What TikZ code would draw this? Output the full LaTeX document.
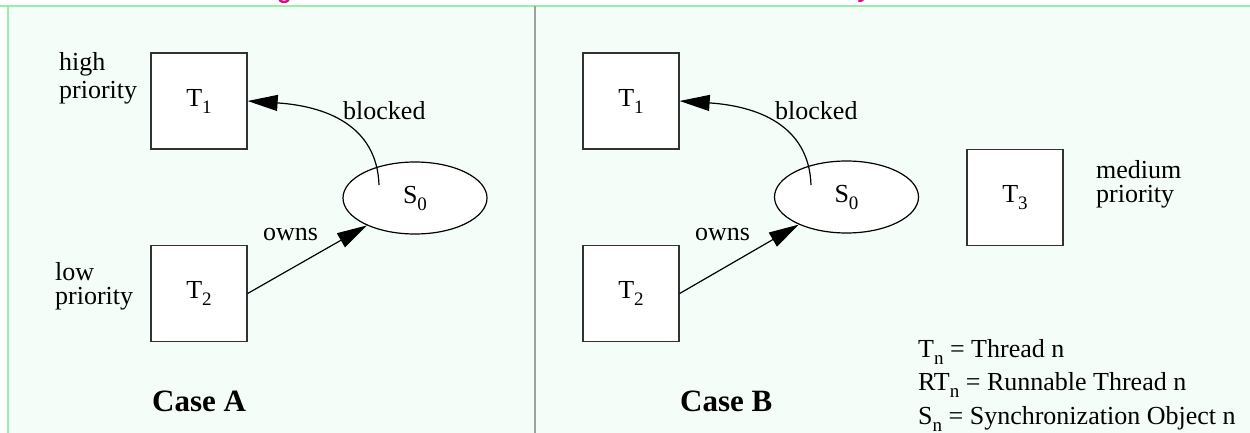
\documentclass[tikz,border=0pt]{standalone}
\usepackage{fontspec}
\setmainfont{Liberation Serif}
\newfontfamily\titlefont{Liberation Sans}
\usetikzlibrary{arrows.meta,shapes.geometric}
\definecolor{bgmint}{RGB}{245,253,248}
\definecolor{framegreen}{RGB}{150,240,170}
\definecolor{dividergray}{RGB}{160,160,160}
\definecolor{boxline}{RGB}{50,50,50}
\newcommand\subs[1]{\raisebox{-7pt}{\fontsize{19}{19}\selectfont #1}}
\begin{document}
\begin{tikzpicture}[x=1pt,y=-1pt,
  lbl/.style={font=\fontsize{26}{26}\selectfont, inner sep=0pt, anchor=base west},
  thread/.style={draw=boxline, fill=white, line width=1.3pt, minimum width=96pt, minimum height=96pt, inner sep=0pt, font=\fontsize{26}{26}\selectfont},
  sync/.style={ellipse, draw=black, fill=white, line width=1.2pt, minimum width=144pt, minimum height=72pt, inner sep=0pt, font=\fontsize{26}{26}\selectfont},
  arr/.style={-{Triangle[length=30pt,width=16pt]}, line width=1.2pt},
  casel/.style={font=\fontsize{31}{31}\selectfont\bfseries, inner sep=0pt, anchor=base west},
  titlebit/.style={text=magenta, font=\titlefont\bfseries\fontsize{24}{24}\selectfont, inner sep=0pt, anchor=base west}]
\useasboundingbox (0,0) rectangle (1250,433);
\clip (0,0) rectangle (1250,433);
\fill[white] (0,0) rectangle (1250,433);
\fill[bgmint] (7.5,6) rectangle (1250,433);
\draw[framegreen, line width=2pt] (0,6) -- (1250,6);
\draw[framegreen, line width=2pt] (7.5,6) -- (7.5,433);
\draw[dividergray, line width=2pt] (535,6) -- (535,433);
% cut-off title
\node[titlebit] (titleg) at (277,-1.5) {g};
\node[titlebit] (titley) at (857,-2) {y};

% Case A
\node[thread] (T1A) at (199,101) {T\subs{1}};
\node[thread] (T2A) at (199,293.5) {T\subs{2}};
\node[sync] (S0A) at (415,198) {S\subs{0}};
\node[lbl] (highA) at (59,71) {high};
\node[lbl] (highpA) at (59,99) {priority};
\node[lbl, text depth=0pt] (lowA) at (55,280) {low};
\node[lbl, text height=17pt] (lowpA) at (55,304) {priority};
\draw[arr] ([shift={(-36,-13)}]S0A.center) .. controls (377,125) and (325,106) .. (T1A.east);
\draw[arr] (T2A.east) -- (S0A);
\node[lbl] (blockedA) at (343,120) {blocked};
\node[lbl] (ownsA) at (263,240) {owns};
\node[casel] (caseA) at (152,411) {Case A};

% Case B
\node[thread] (T1B) at (631,101) {T\subs{1}};
\node[thread] (T2B) at (631,293.5) {T\subs{2}};
\node[sync] (S0B) at (846.5,197) {S\subs{0}};
\node[thread] (T3B) at (1015,197.5) {T\subs{3}};
\node[lbl] (medB) at (1096,178) {medium};
\node[lbl] (medpB) at (1096,202) {priority};
\draw[arr] ([shift={(-35.5,-12)}]S0B.center) .. controls (809,125) and (757,106) .. (T1B.east);
\draw[arr] (T2B.east) -- (S0B);
\node[lbl] (blockedB) at (775,120) {blocked};
\node[lbl] (ownsB) at (695,240) {owns};
\node[casel] (caseB) at (680,411) {Case B};

% legend
\node[lbl] (legT) at (918,357) {T\subs{n} = Thread n};
\node[lbl] (legRT) at (918,390) {RT\subs{n} = Runnable Thread n};
\node[lbl] (legS) at (918,424) {S\subs{n} = Synchronization Object n};
\end{tikzpicture}
\end{document}
